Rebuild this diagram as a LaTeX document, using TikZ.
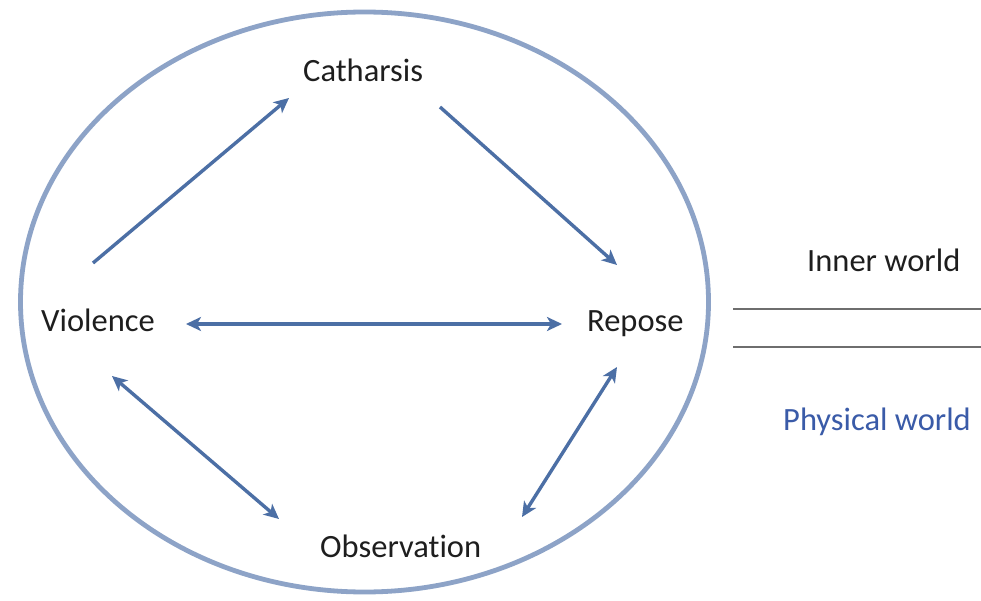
\documentclass[tikz,border=0pt]{standalone}
\usepackage{fontspec}
\setmainfont{Carlito}[Ligatures=NoCommon]
\usetikzlibrary{arrows.meta}
\definecolor{ringc}{HTML}{8DA3C7}
\definecolor{arrc}{HTML}{4C6FA5}
\definecolor{txtc}{HTML}{1E1E1E}
\definecolor{physc}{HTML}{3A5BA8}
\definecolor{linec}{HTML}{6E6E6E}
\begin{document}
\begin{tikzpicture}[x=1pt,y=-1pt,
  lbl/.style={font=\fontsize{32.5}{39}\selectfont, text=txtc, inner sep=0pt, anchor=base west},
  conn/.style={draw=arrc, line width=3.4pt, -{Stealth[length=15pt,width=14pt,inset=4pt]}},
  conn2/.style={conn, {Stealth[length=15pt,width=14pt,inset=4pt]}-{Stealth[length=15pt,width=14pt,inset=4pt]}},
  sep/.style={draw=linec, line width=2.8pt}]
\useasboundingbox (0,0) rectangle (981,601);
\fill[white] (0,0) rectangle (981,601);
\draw[ringc, line width=4.8pt] (364.5,302) ellipse [x radius=344pt, y radius=290pt];

\node[lbl] (cat) at (303,82) {Catharsis};
\node[lbl] (vio) at (41,331) {Violence};
\node[lbl] (rep) at (587,331) {Repose};
\node[lbl] (obs) at (320,557) {Observation};
\node[lbl] (inn) at (807,272) {Inner world};
\node[lbl, text=physc] (phy) at (783,430) {Physical world};

\coordinate (vc) at (93,263);
\coordinate (cv) at (289,98);
\coordinate (cr) at (440,107);
\coordinate (rc) at (617,265);
\coordinate (vr) at (186,324);
\coordinate (rv) at (562,324);
\coordinate (vo) at (112,376);
\coordinate (ov) at (279,519);
\coordinate (ro) at (617,367);
\coordinate (or) at (522,517);
\coordinate (l1a) at (733,309);
\coordinate (l1b) at (981,309);
\coordinate (l2a) at (733,347);
\coordinate (l2b) at (981,347);

\draw[conn] (vc) -- (cv);
\draw[conn] (cr) -- (rc);
\draw[conn2] (vr) -- (rv);
\draw[conn2] (vo) -- (ov);
\draw[conn2] (ro) -- (or);
\draw[sep] (l1a) -- (l1b);
\draw[sep] (l2a) -- (l2b);
\end{tikzpicture}
\end{document}
